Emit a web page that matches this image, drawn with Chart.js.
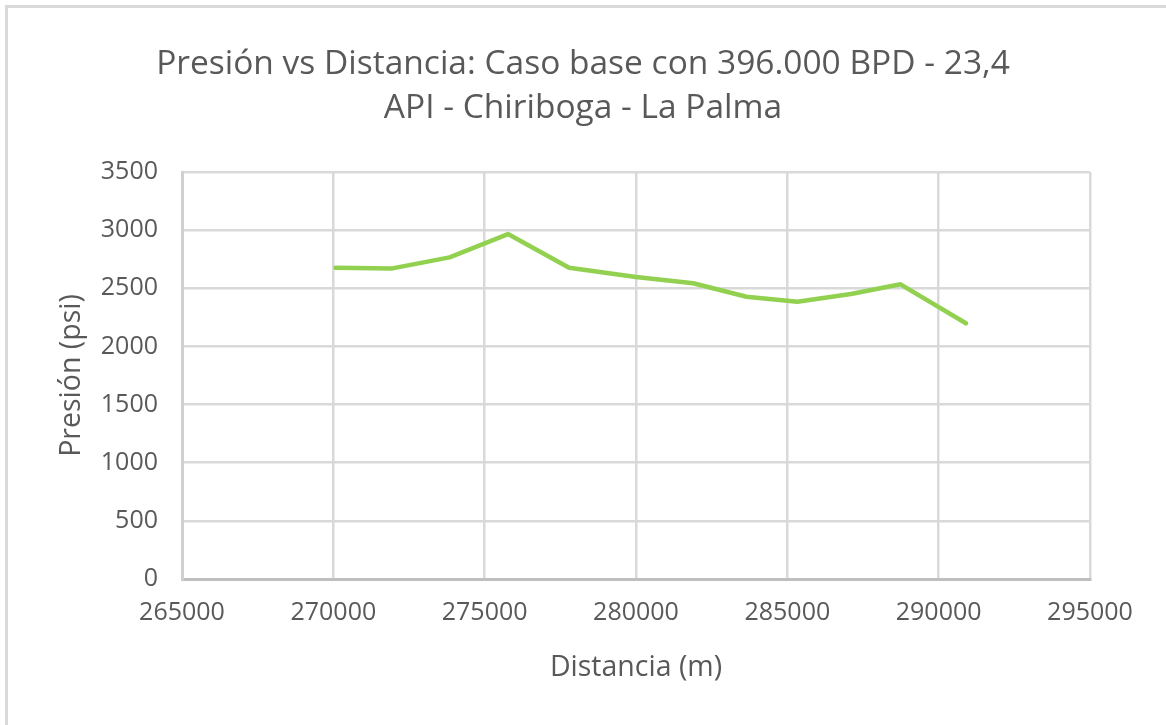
<!DOCTYPE html>
<html lang="es">
<head>
<meta charset="utf-8">
<title>Presión vs Distancia</title>
<script src="https://cdn.jsdelivr.net/npm/chart.js@4.4.1/dist/chart.umd.min.js"></script>
<style>
  html, body { margin: 0; padding: 0; background: #ffffff; }
  #wrap { position: relative; width: 1166px; height: 725px; }
  canvas { display: block; }
</style>
</head>
<body>
<div id="wrap"><canvas id="chart" width="1166" height="725"></canvas></div>
<script>
// Distance along the pipeline (m) and the pressure at each station (psi)
const distancia = [270070, 271950, 273840, 275770, 277790, 280000, 281890, 283650, 285330, 287100, 288740, 290900];
const presion   = [2677,   2671,   2766,   2966,   2677,   2597,   2543,   2427,   2384,   2451,   2534,   2199];

const tituloGrafico = ['Presión vs Distancia: Caso base con 396.000 BPD - 23,4', 'API - Chiriboga - La Palma'];
const tituloX = 'Distancia (m)';
const tituloY = 'Presión (psi)';

const puntos = distancia.map((d, i) => ({ x: d, y: presion[i] }));

const TEXTO = '#595959';
const REJILLA = '#d9d9d9';

// White page with the light frame on the left and top edges
const fondo = {
  id: 'fondo',
  beforeDraw(chart) {
    const { ctx, width, height } = chart;
    ctx.save();
    ctx.fillStyle = '#ffffff';
    ctx.fillRect(0, 0, width, height);
    ctx.fillStyle = '#d9d9d9';
    ctx.fillRect(5, 5, width - 5, 3);
    ctx.fillRect(5, 5, 3, height - 5);
    ctx.restore();
  }
};

// Center the chart title across the whole canvas, not only the padded area
const tituloCentrado = {
  id: 'tituloCentrado',
  afterLayout(chart) {
    const t = chart.titleBlock;
    if (t) {
      t.left = 0;
      t.right = chart.width;
      t.width = chart.width;
    }
  }
};

new Chart(document.getElementById('chart'), {
  type: 'line',
  data: {
    datasets: [{
      label: 'Presión',
      data: puntos,
      borderColor: '#92D050',
      backgroundColor: '#92D050',
      borderWidth: 4.5,
      borderJoinStyle: 'round',
      borderCapStyle: 'round',
      pointRadius: 0,
      tension: 0,
      fill: false
    }]
  },
  options: {
    responsive: false,
    animation: false,
    layout: { padding: { top: 0, left: 0, right: 76, bottom: 0 } },
    plugins: {
      legend: { display: false },
      tooltip: { enabled: false },
      title: {
        display: true,
        text: tituloGrafico,
        color: TEXTO,
        font: { family: 'Open Sans', size: 33.5, weight: 'normal', lineHeight: 44 / 33.5 },
        padding: { top: 42, bottom: 42 }
      }
    },
    scales: {
      x: {
        type: 'linear',
        min: 265000,
        max: 295000,
        ticks: {
          stepSize: 5000,
          color: TEXTO,
          font: { family: 'Open Sans', size: 25 },
          padding: 19,
          maxRotation: 0,
          callback: v => String(v)
        },
        grid: { color: REJILLA, lineWidth: 2.5, drawTicks: false },
        border: { color: '#bfbfbf', width: 3 },
        title: {
          display: true,
          text: tituloX,
          color: TEXTO,
          font: { family: 'Open Sans', size: 28.5 },
          padding: { top: 0, bottom: 40 }
        },
        afterFit(scale) { scale.height = 146; }
      },
      y: {
        min: 0,
        max: 3500,
        ticks: {
          stepSize: 500,
          color: TEXTO,
          font: { family: 'Open Sans', size: 25 },
          padding: 24,
          callback: v => String(v)
        },
        grid: { color: REJILLA, lineWidth: 2.5, drawTicks: false },
        border: { color: '#d0d0d0', width: 3 },
        title: {
          display: true,
          text: tituloY,
          color: TEXTO,
          font: { family: 'Open Sans', size: 28.5 },
          padding: { top: 55, bottom: 0 }
        },
        afterFit(scale) { scale.width = 182; }
      }
    }
  },
  plugins: [fondo, tituloCentrado]
});
</script>
</body>
</html>
